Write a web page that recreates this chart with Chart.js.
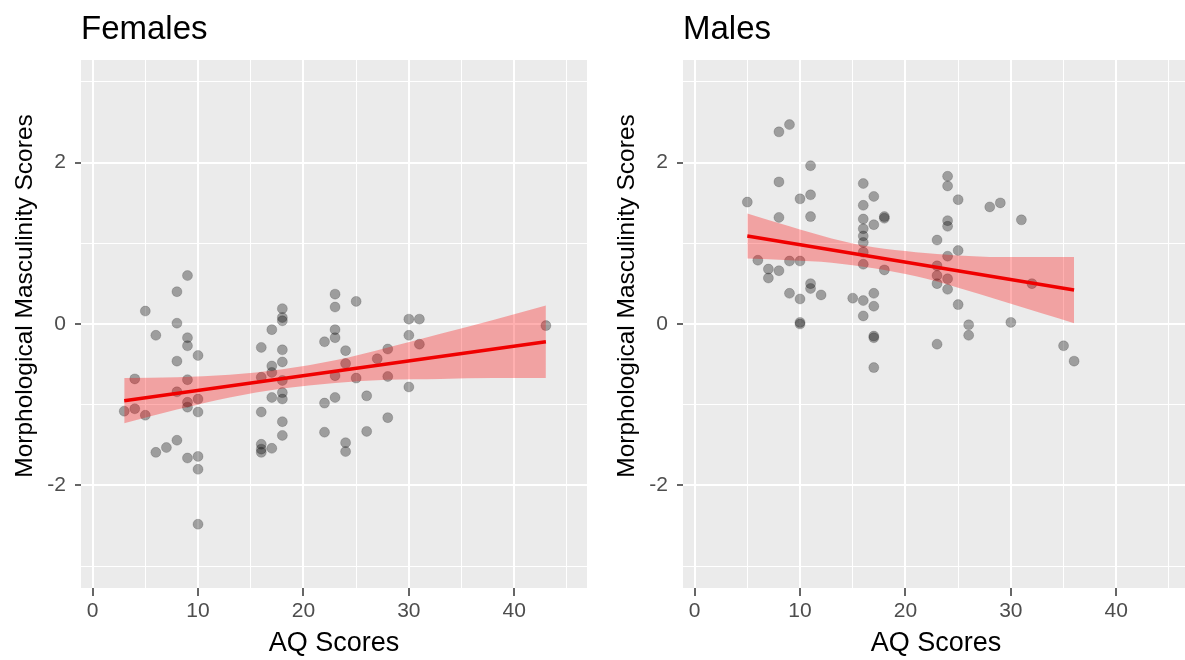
<!DOCTYPE html>
<html><head><meta charset="utf-8">
<script src="https://cdn.jsdelivr.net/npm/chart.js@4.4.0/dist/chart.umd.min.js"></script>
<style>
html,body{margin:0;padding:0;background:#fff;overflow:hidden;width:1185px;height:660px;}
#wrap{position:relative;width:1185px;height:660px;overflow:hidden;}
canvas{position:absolute;top:0;}
#c1{left:0}
#c2{left:602px}
</style></head><body>
<div id="wrap"><canvas id="c1" width="600" height="660"></canvas><canvas id="c2" width="600" height="660"></canvas></div>
<script>
const panelTitles = ["Females", "Males"];
const xAxisTitle = "AQ Scores";
const yAxisTitle = "Morphological Masculinity Scores";
const xTickValues = [0, 5, 10, 15, 20, 25, 30, 35, 40, 45];
const yTickValues = [-3, -2, -1, 0, 1, 2, 3];

// Females scatter
const femaleAQ = [3, 4, 4, 5, 5, 6, 6, 7, 8, 8, 8, 8, 8, 9, 9, 9, 9, 9, 9, 9,
  10, 10, 10, 10, 10, 10, 16, 16, 16, 16, 16, 16, 17, 17, 17, 17, 17,
  18, 18, 18, 18, 18, 18, 18, 18, 18, 18, 22, 22, 22, 23, 23, 23, 23, 23, 23,
  24, 24, 24, 24, 25, 25, 26, 26, 27, 28, 28, 28, 30, 30, 30, 31, 31, 43];
const femaleMM = [-1.08, -0.68, -1.05, 0.16, -1.13, -0.14, -1.59, -1.53, 0.40, 0.01, -0.46, -0.84, -1.44,
  0.60, -0.17, -0.27, -0.69, -0.97, -1.03, -1.66,
  -0.39, -0.93, -1.09, -1.64, -1.80, -2.48,
  -0.29, -0.66, -1.09, -1.49, -1.55, -1.59,
  -0.07, -0.52, -0.60, -0.91, -1.54,
  0.19, 0.08, 0.04, -0.32, -0.47, -0.70, -0.85, -0.93, -1.21, -1.38,
  -0.22, -0.98, -1.34, 0.37, 0.21, -0.07, -0.17, -0.64, -0.91,
  -0.33, -0.49, -1.47, -1.58, 0.28, -0.67, -0.89, -1.33, -0.43, -0.31, -0.65, -1.16,
  0.06, -0.14, -0.78, 0.06, -0.25, -0.02];
// Females fitted line and confidence band
const femaleFitAQ = [3, 43];
const femaleFitMM = [-0.95, -0.22];
const femaleBandAQ = [3, 8, 13, 18, 23, 28, 33, 38, 43];
const femaleBandLow = [-1.23, -1.06, -0.91, -0.80, -0.73, -0.69, -0.68, -0.67, -0.67];
const femaleBandHigh = [-0.67, -0.66, -0.63, -0.56, -0.45, -0.29, -0.12, 0.05, 0.23];

// Males scatter
const maleAQ = [5, 6, 7, 7, 8, 8, 8, 8, 9, 9, 9, 10, 10, 10, 10, 10, 11, 11, 11, 11, 11, 12, 15,
  16, 16, 16, 16, 16, 16, 16, 16, 16, 16, 17, 17, 17, 17, 17, 17, 17, 18, 18, 18,
  23, 23, 23, 23, 23, 24, 24, 24, 24, 24, 24, 24, 25, 25, 25, 26, 26, 28, 29, 30, 31, 32, 35, 36];
const maleMM = [1.51, 0.79, 0.68, 0.57, 2.38, 1.76, 1.32, 0.66, 2.47, 0.78, 0.38,
  1.55, 0.78, 0.31, 0.02, 0.00, 1.96, 1.60, 1.33, 0.50, 0.44, 0.36, 0.32,
  1.74, 1.47, 1.30, 1.18, 1.09, 1.01, 0.89, 0.74, 0.29, 0.10,
  1.58, 1.23, 0.38, 0.22, -0.15, -0.17, -0.54, 1.33, 1.31, 0.67,
  1.04, 0.72, 0.60, 0.50, -0.25, 1.83, 1.71, 1.28, 1.21, 0.84, 0.56, 0.43,
  1.54, 0.91, 0.24, -0.01, -0.14, 1.45, 1.50, 0.02, 1.29, 0.50, -0.27, -0.46];
// Males fitted line and confidence band
const maleFitAQ = [5, 36];
const maleFitMM = [1.09, 0.42];
const maleBandAQ = [5, 9, 13, 17, 21, 25, 29, 33, 36];
const maleBandLow = [0.81, 0.79, 0.76, 0.69, 0.59, 0.45, 0.29, 0.13, 0.01];
const maleBandHigh = [1.37, 1.21, 1.06, 0.95, 0.89, 0.85, 0.83, 0.83, 0.83];

const FONT = "'Liberation Sans', Arial, Helvetica, sans-serif";
const pts = (xs, ys) => xs.map((x, i) => ({x: x, y: ys[i]}));

const panelPlugin = {
  id: 'panel',
  beforeDraw(chart, args, opts) {
    const {ctx, chartArea: a} = chart;
    ctx.save();
    ctx.fillStyle = '#EBEBEB';
    ctx.fillRect(a.left, a.top, a.right - a.left, a.bottom - a.top);
    ctx.restore();
  },
  afterDraw(chart, args, opts) {
    const {ctx, chartArea: a} = chart;
    ctx.save();
    ctx.fillStyle = '#000';
    ctx.font = '33px ' + FONT;
    ctx.textBaseline = 'alphabetic';
    ctx.textAlign = 'left';
    ctx.fillText(opts.text, a.left, 39);
    // y axis title
    ctx.translate(25, 296);
    ctx.rotate(-Math.PI / 2);
    ctx.font = '24.5px ' + FONT;
    ctx.textAlign = 'center';
    ctx.textBaseline = 'middle';
    ctx.fillText(opts.yTitle, 0, 0);
    ctx.restore();
  }
};

function makeChart(id, title, xs, ys, fitX, fitY, bandX, bandLo, bandHi) {
  return new Chart(document.getElementById(id), {
    type: 'scatter',
    data: {
      datasets: [
        {data: pts(xs, ys), pointRadius: 5, pointBackgroundColor: 'rgba(0,0,0,0.33)',
         pointBorderColor: 'rgba(0,0,0,0.16)', pointBorderWidth: 1, order: 2},
        {data: pts(bandX, bandLo), showLine: true, pointRadius: 0, borderWidth: 0,
         borderColor: 'rgba(0,0,0,0)', fill: false, cubicInterpolationMode: 'monotone', order: 1},
        {data: pts(bandX, bandHi), showLine: true, pointRadius: 0, borderWidth: 0,
         borderColor: 'rgba(0,0,0,0)', fill: 1, backgroundColor: 'rgba(255,0,0,0.31)',
         cubicInterpolationMode: 'monotone', order: 1},
        {data: pts(fitX, fitY), showLine: true, pointRadius: 0, borderWidth: 3.5,
         borderColor: '#F00000', fill: false, order: 0}
      ]
    },
    options: {
      responsive: false, animation: false, events: [],
      layout: {padding: {left: 0, right: 13, top: 60, bottom: 0}},
      plugins: {legend: {display: false}, tooltip: {enabled: false}, panel: {text: title, yTitle: yAxisTitle}},
      scales: {
        x: {
          type: 'linear', min: -1.1, max: 46.9,
          afterBuildTicks: s => { s.ticks = xTickValues.map(v => ({value: v})); },
          afterFit: s => { s.height = 72; },
          border: {display: false},
          grid: {
            color: '#FFFFFF',
            lineWidth: c => (c.tick && c.tick.value % 10 === 0) ? 2 : 1,
            tickColor: c => (c.tick && c.tick.value % 10 === 0) ? '#333333' : 'rgba(0,0,0,0)',
            tickWidth: 1.5, tickLength: 8, drawTicks: true
          },
          ticks: {
            autoSkip: false, maxRotation: 0, padding: 3, color: '#4D4D4D',
            font: {family: FONT, size: 21},
            callback: v => (v % 10 === 0 ? String(v) : '')
          },
          title: {display: true, text: xAxisTitle, color: '#000', font: {family: FONT, size: 27},
                  padding: {top: 0, bottom: 0}}
        },
        y: {
          type: 'linear', min: -3.27, max: 3.27,
          afterBuildTicks: s => { s.ticks = yTickValues.map(v => ({value: v})); },
          afterFit: s => { s.width = 81; },
          border: {display: false},
          grid: {
            color: '#FFFFFF',
            lineWidth: c => (c.tick && c.tick.value % 2 === 0) ? 2 : 1,
            tickColor: c => (c.tick && c.tick.value % 2 === 0) ? '#333333' : 'rgba(0,0,0,0)',
            tickWidth: 1.5, tickLength: 6, drawTicks: true
          },
          ticks: {
            autoSkip: false, padding: 9, color: '#4D4D4D',
            font: {family: FONT, size: 21},
            callback: v => (v % 2 === 0 ? String(v) : '')
          },
          title: {display: false}
        }
      }
    },
    plugins: [panelPlugin]
  });
}

makeChart('c1', panelTitles[0], femaleAQ, femaleMM, femaleFitAQ, femaleFitMM, femaleBandAQ, femaleBandLow, femaleBandHigh);
makeChart('c2', panelTitles[1], maleAQ, maleMM, maleFitAQ, maleFitMM, maleBandAQ, maleBandLow, maleBandHigh);
</script>
</body></html>
